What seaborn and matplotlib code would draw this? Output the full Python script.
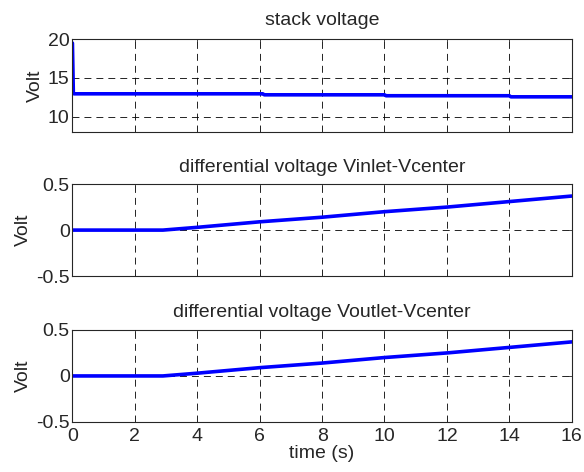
import seaborn as sns
import matplotlib.pyplot as plt
import pandas as pd

# stack voltage (step-like decay)
t_stack = [0, 0.03, 0.05, 6.1, 6.15, 10.0, 10.05, 14.0, 14.05, 16]
v_stack = [19.5, 13.0, 12.95, 12.95, 12.82, 12.82, 12.7, 12.7, 12.56, 12.56]

# differential voltages (flat then ramp)
t_diff = [0, 2.9, 4, 6, 8, 10, 12, 14, 16]
v_inlet = [0, 0, 0.03, 0.09, 0.14, 0.2, 0.25, 0.31, 0.37]
v_outlet = [0, 0, 0.03, 0.09, 0.14, 0.2, 0.25, 0.31, 0.37]

titles = ['stack voltage',
          'differential voltage Vinlet-Vcenter',
          'differential voltage Voutlet-Vcenter']

sns.set_style('ticks')
plt.rcParams['font.family'] = ['Liberation Sans', 'DejaVu Sans']
plt.rcParams['xtick.direction'] = 'in'
plt.rcParams['ytick.direction'] = 'in'
plt.rcParams['lines.scale_dashes'] = False

fig = plt.figure(figsize=(5.84, 4.72), dpi=100)
boxes = [[0.124, 0.720, 0.855, 0.197],
         [0.124, 0.415, 0.855, 0.195],
         [0.124, 0.106, 0.855, 0.195]]

series = [(t_stack, v_stack), (t_diff, v_inlet), (t_diff, v_outlet)]
for i, (box, (t, v)) in enumerate(zip(boxes, series)):
    ax = fig.add_axes(box)
    df = pd.DataFrame({'t': t, 'v': v})
    sns.lineplot(data=df, x='t', y='v', ax=ax, color='#0000ff', linewidth=2.6)
    ax.set_xlim(0, 16)
    ax.set_xticks(range(0, 17, 2))
    if i == 0:
        ax.set_ylim(8, 20)
        ax.set_yticks([10, 15, 20])
        ax.set_yticklabels(['10', '15', '20'])
    else:
        ax.set_ylim(-0.5, 0.5)
        ax.set_yticks([-0.5, 0, 0.5])
        ax.set_yticklabels(['-0.5', '0', '0.5'])
    if i < 2:
        ax.set_xticklabels([])
        ax.set_xlabel('')
    else:
        ax.set_xlabel('time (s)', fontsize=14, labelpad=0)
    ax.set_ylabel('Volt', fontsize=14, labelpad=3)
    ax.set_title(titles[i], fontsize=14, pad=9 if i else 10)
    ax.grid(True, color='black', linestyle=(0, (5, 3.6)), linewidth=0.6)
    ax.tick_params(labelsize=14, length=4, width=0.6, top=True, right=True, pad=2)
    ax.tick_params(axis='x', pad=4)
    for s in ax.spines.values():
        s.set_visible(True)
        s.set_linewidth(0.8)

fig.savefig('out.png', dpi=100)
